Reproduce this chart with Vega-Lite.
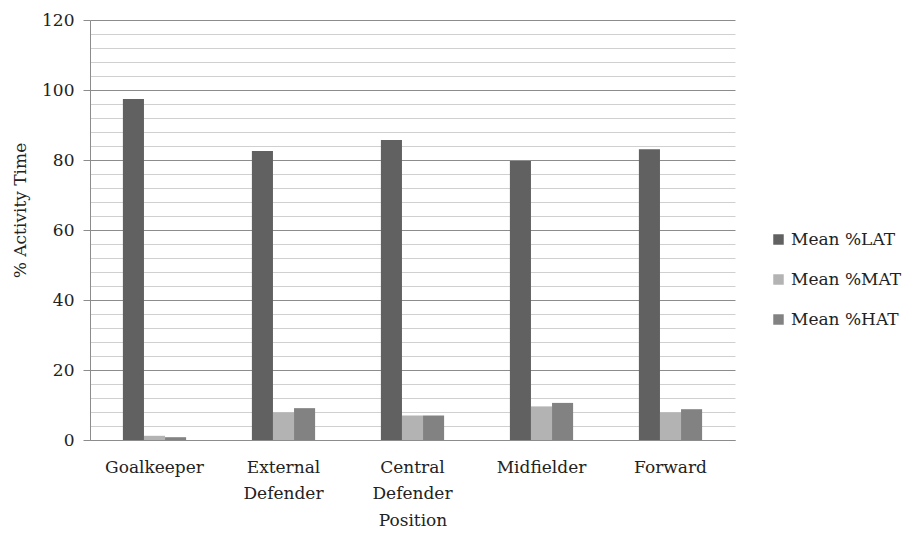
{
  "$schema": "https://vega.github.io/schema/vega-lite/v6.json",
  "width": 645,
  "height": 420,
  "autosize": {"type": "none"},
  "padding": {"left": 90, "top": 20, "right": 176, "bottom": 93},
  "background": "white",
  "config": {
    "view": {"stroke": null},
    "font": "DejaVu Serif",
    "axis": {"labelFont": "DejaVu Serif", "titleFont": "DejaVu Serif", "labelColor": "#222", "titleColor": "#222", "titleFontWeight": "normal", "labelFontSize": 17, "titleFontSize": 17},
    "legend": {"labelFont": "DejaVu Serif", "labelFontSize": 17, "labelColor": "#222"}
  },
  "data": {
    "values": [
      {"position": "Goalkeeper", "measure": "Mean %LAT", "value": 97.4},
      {"position": "Goalkeeper", "measure": "Mean %MAT", "value": 1.2},
      {"position": "Goalkeeper", "measure": "Mean %HAT", "value": 0.8},
      {"position": "External Defender", "measure": "Mean %LAT", "value": 82.6},
      {"position": "External Defender", "measure": "Mean %MAT", "value": 7.9},
      {"position": "External Defender", "measure": "Mean %HAT", "value": 9.1},
      {"position": "Central Defender", "measure": "Mean %LAT", "value": 85.7},
      {"position": "Central Defender", "measure": "Mean %MAT", "value": 7.0},
      {"position": "Central Defender", "measure": "Mean %HAT", "value": 7.0},
      {"position": "Midfielder", "measure": "Mean %LAT", "value": 79.7},
      {"position": "Midfielder", "measure": "Mean %MAT", "value": 9.6},
      {"position": "Midfielder", "measure": "Mean %HAT", "value": 10.6},
      {"position": "Forward", "measure": "Mean %LAT", "value": 83.1},
      {"position": "Forward", "measure": "Mean %MAT", "value": 7.9},
      {"position": "Forward", "measure": "Mean %HAT", "value": 8.8}
    ]
  },
  "encoding": {
    "x": {
      "field": "position", "type": "nominal",
      "sort": ["Goalkeeper", "External Defender", "Central Defender", "Midfielder", "Forward"],
      "scale": {"paddingInner": 0.51, "paddingOuter": 0.255},
      "axis": {"title": "Position", "labelAngle": 0, "labelExpr": "split(datum.label, ' ')", "labelLineHeight": 26, "labelPadding": 19, "ticks": false, "domainColor": "#8c8c8c", "titlePadding": 11, "labelBaseline": "top"}
    },
    "xOffset": {"field": "measure", "type": "nominal", "sort": ["Mean %LAT", "Mean %MAT", "Mean %HAT"], "scale": {"paddingInner": 0}},
    "y": {"field": "value", "type": "quantitative", "scale": {"domain": [0, 120], "nice": false}}
  },
  "layer": [
    {
      "mark": {"type": "bar", "opacity": 0},
      "encoding": {
        "y": {"field": "value", "type": "quantitative", "scale": {"domain": [0, 120], "nice": false},
          "axis": {"orient": "left", "title": null, "labels": false, "ticks": false, "domain": false, "grid": true, "gridColor": "#d0d0d0", "gridOpacity": 1, "gridWidth": 1,
            "values": [4, 8, 12, 16, 24, 28, 32, 36, 44, 48, 52, 56, 64, 68, 72, 76, 84, 88, 92, 96, 104, 108, 112, 116]}}
      }
    },
    {
      "mark": {"type": "bar"},
      "encoding": {
        "y": {"field": "value", "type": "quantitative", "scale": {"domain": [0, 120], "nice": false},
          "axis": {"orient": "left", "title": "% Activity Time", "values": [0, 20, 40, 60, 80, 100, 120], "grid": true, "gridColor": "#8c8c8c", "gridOpacity": 1, "domainColor": "#8c8c8c", "tickColor": "#8c8c8c", "tickSize": 7, "labelPadding": 9, "titlePadding": 12, "titleY": 190}},
        "color": {
          "field": "measure", "type": "nominal",
          "sort": ["Mean %LAT", "Mean %MAT", "Mean %HAT"],
          "scale": {"domain": ["Mean %LAT", "Mean %MAT", "Mean %HAT"], "range": ["#616161", "#b3b3b3", "#828282"]},
          "legend": {"title": null, "orient": "none", "legendX": 680, "legendY": 211, "symbolType": "square", "symbolSize": 110, "symbolStrokeWidth": 0, "symbolOpacity": 1, "rowPadding": 22, "labelOffset": 4}
        }
      }
    }
  ],
  "resolve": {"axis": {"y": "independent"}}
}
